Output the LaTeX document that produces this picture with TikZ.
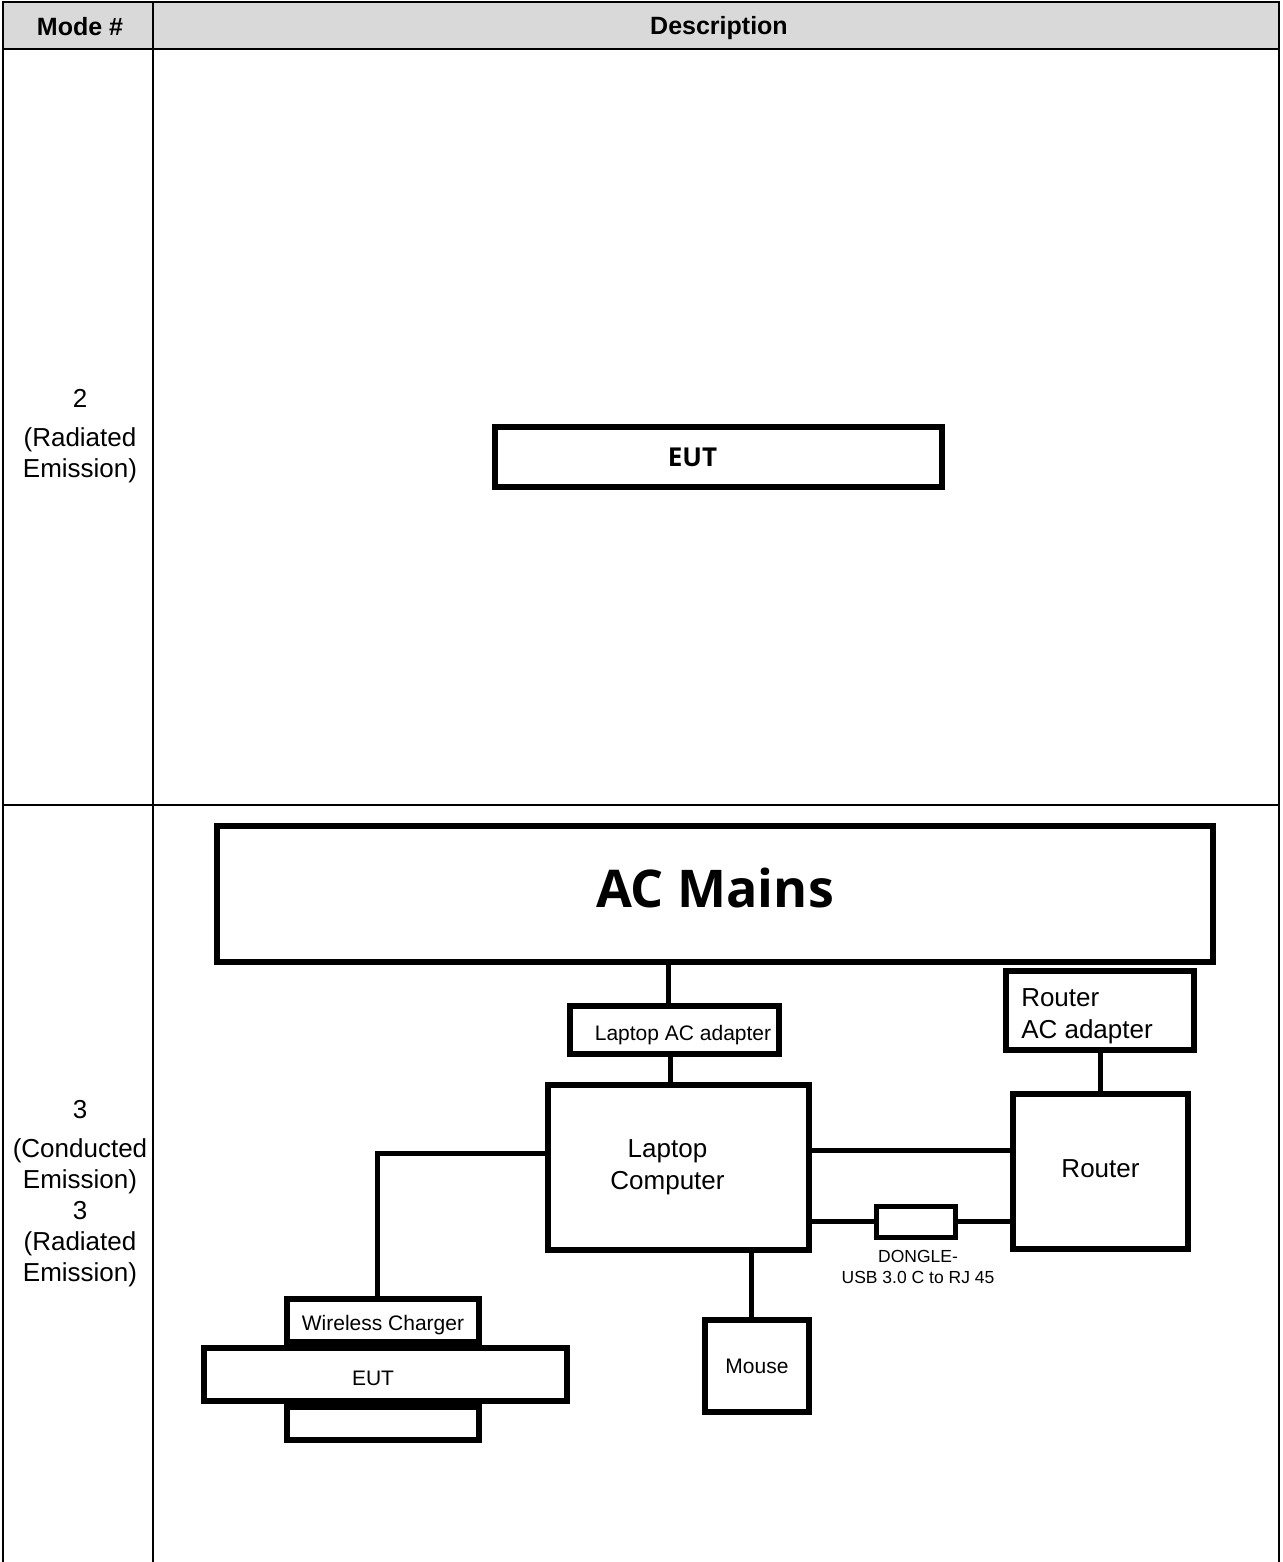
\documentclass[tikz,border=0pt]{standalone}
\usepackage{fontspec}
\setmainfont{Liberation Sans}
\newfontfamily\segoe{Open Sans}
\usetikzlibrary{positioning}
\tikzstyle{unit} = [rectangle, draw=black, line width=6pt, inner sep=0pt, text centered, font=\fontsize{21}{25}\selectfont]
\tikzstyle{bigunit} = [unit, font=\fontsize{26}{31}\selectfont]
\tikzstyle{tag} = [font=\fontsize{21}{25}\selectfont]
\tikzstyle{bigtag} = [align=left, font=\fontsize{26}{32}\selectfont]
\tikzstyle{cable} = [line width=5pt]
\tikzstyle{grid} = [line width=1.5pt]
\tikzstyle{cell} = [align=center, font=\fontsize{26}{31}\selectfont]
\tikzstyle{head} = [font=\fontsize{25}{30}\selectfont\bfseries]

\begin{document}
\begin{tikzpicture}[x=1pt,y=-1pt]
    \useasboundingbox (0,0) rectangle (1282,1562);

    % Table
    \fill [gray!30] (3,2) rectangle (1279,49);
    \draw [grid] (3,1562) -- (3,2) -- (1279,2) -- (1279,1562);
    \draw [grid] (3,49) -- (1279,49);
    \draw [grid] (3,805) -- (1279,805);
    \draw [grid] (153,2) -- (153,1562);

    \node (modehd) at (80,27) [head] {Mode \#};
    \node (deschd) at (719,28) [head] {Description};
    \node (mode2) at (80,436) [cell] {2\\[8pt](Radiated\\Emission)};
    \node (mode3) at (80,1194) [cell] {3\\[8pt](Conducted\\Emission)\\3\\(Radiated\\Emission)};

    % Mode 2
    \node (eutre) at (718.5,457) [unit, minimum width=447pt, minimum height=60pt,
        label={[font=\segoe\fontsize{26}{30}\selectfont\bfseries, xshift=-26pt]center:EUT}] {};

    % Mode 3 nodes
    \node (mains) at (715,894) [unit, minimum width=996pt, minimum height=136pt, font=\segoe\fontsize{52}{60}\selectfont\bfseries] {\raisebox{12pt}{AC Mains}};
    \node (lapadp) at (674.5,1030) [unit, minimum width=209pt, minimum height=48pt,
        label={[tag, xshift=8.5pt, yshift=-5pt]center:Laptop AC adapter}] {};
    \node (laptop) at (678.5,1167.5) [bigunit, minimum width=261pt, minimum height=165pt,
        label={[bigtag, align=center, xshift=-11pt]center:Laptop\\Computer}] {};
    \node (rtadp) at (1100,1010.5) [bigunit, minimum width=188pt, minimum height=79pt,
        label={[bigtag, xshift=-13pt, yshift=-5.5pt]center:Router\\AC adapter}] {};
    \node (router) at (1100.5,1171.5) [bigunit, minimum width=175pt, minimum height=155pt] {\raisebox{6pt}{Router}};
    \node (dongle) at (915.5,1221.5) [unit, line width=5pt, minimum width=79pt, minimum height=31pt] {};
    \node (donglelbl) at (918,1267) [align=center, font=\fontsize{17.5}{21}\selectfont] {DONGLE-\\USB 3.0 C to RJ 45};
    \node (mouse) at (757,1366) [unit, minimum width=104pt, minimum height=92pt] {Mouse};
    \node (stand) at (383,1423.5) [unit, minimum width=192pt, minimum height=33pt] {};
    \node (charger) at (383,1320.5) [unit, minimum width=192pt, minimum height=43pt,
        label={[tag, yshift=-5pt]center:Wireless Charger}] {};
    \node (eutce) at (385.5,1374.5) [unit, minimum width=363pt, minimum height=53pt,
        label={[tag, xshift=-12.5pt, yshift=-4pt]center:EUT}] {};

    % Cables
    \draw [cable] ([xshift=-6.5pt]lapadp.north) coordinate (ma) -- (ma |- mains.south);
    \draw [cable] ([xshift=-4.5pt]lapadp.south) coordinate (al) -- (al |- laptop.north);
    \draw [cable] (rtadp.south) -- (rtadp.south |- router.north);
    \draw [cable] ([yshift=17pt]laptop.east) coordinate (lr) -- (lr -| router.west);
    \draw [cable] (dongle.west -| laptop.east) -- (dongle.west);
    \draw [cable] (dongle.east) -- (dongle.east -| router.west);
    \draw [cable] ([xshift=-6pt]mouse.north) coordinate (lm) -- (lm |- laptop.south);
    \draw [cable] ([yshift=14pt]laptop.west) -| ([xshift=-6pt]charger.north);

\end{tikzpicture}
\end{document}
